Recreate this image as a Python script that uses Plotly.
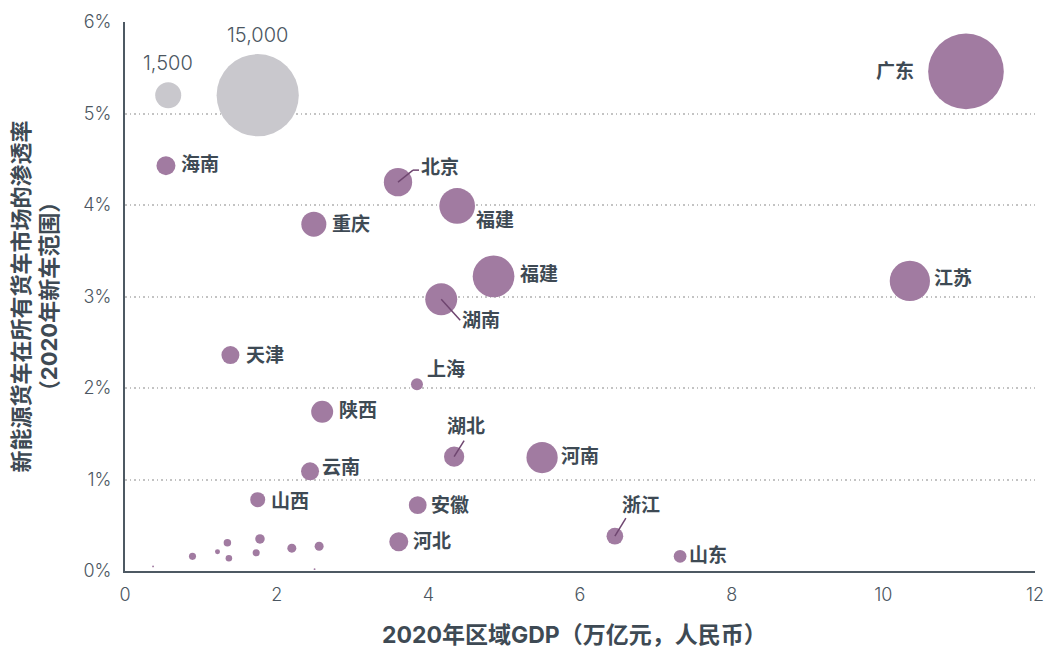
import plotly.graph_objects as go

# Labelled provinces: 2020 GDP (trillion yuan), NEV share of truck sales (%), NEV trucks sold
provinces = ["广东", "江苏", "海南", "北京", "福建", "福建", "湖南", "重庆", "天津", "上海",
             "陕西", "湖北", "河南", "安徽", "云南", "山西", "河北", "浙江", "山东"]
gdp = [11.09, 10.35, 0.54, 3.60, 4.38, 4.86, 4.17, 2.49, 1.39, 3.85,
       2.60, 4.34, 5.50, 3.86, 2.44, 1.75, 3.61, 6.46, 7.32]
nev_share = [5.46, 3.17, 4.43, 4.25, 3.99, 3.22, 2.97, 3.79, 2.36, 2.04,
             1.74, 1.25, 1.24, 0.72, 1.09, 0.78, 0.32, 0.38, 0.16]
nev_trucks = [12700, 3600, 800, 1780, 2830, 3860, 2270, 1390, 720, 320,
              1070, 910, 2170, 700, 720, 500, 800, 620, 360]

# Smaller provinces, drawn without labels
other_gdp = [0.37, 0.89, 1.22, 1.35, 1.37, 1.73, 1.78, 2.20, 2.56, 2.50]
other_share = [0.05, 0.16, 0.21, 0.31, 0.14, 0.20, 0.35, 0.25, 0.27, 0.02]
other_trucks = [8, 110, 55, 125, 95, 110, 200, 180, 180, 8]

# Bubble-size key
key_trucks = [1500, 15000]
key_text = ["1,500", "15,000"]
key_gdp = [0.57, 1.75]
key_share = [5.20, 5.20]

x_ticks = [0, 2, 4, 6, 8, 10, 12]
x_tick_text = ["0", "2", "4", "6", "8", "10", "12"]
y_ticks = [0, 1, 2, 3, 4, 5, 6]
y_tick_text = ["0%", "1%", "2%", "3%", "4%", "5%", "6%"]

# Label placement per province: (x offset px, y offset px, anchor)
label_pos = [(-50, 0, "right"), (22, 2, "left"), (13, 1, "left"), (21, 15, "left"),
             (17, -15, "left"), (24, 2, "left"), (19, -21, "left"), (16, 0, "left"),
             (14, 0, "left"), (8, 15, "left"), (15, 1, "left"), (12, 30, "center"),
             (17, 1, "left"), (11, 0, "left"), (10, 4, "left"), (11, -2, "left"),
             (12, 0, "left"), (26, 31, "center"), (7, 1, "left")]
# Leader lines for labels set away from their bubble: list of (dx, dy) vertices in px
leaders = {3: [(0, 0), (15, 12), (21, 12)], 6: [(0, 0), (19, -21)],
           11: [(0, 0), (10, 16)], 17: [(0, 0), (11, 18)]}

PURPLE = "#a17ba1"
GREY_BUBBLE = "#c9c8cd"
TEXT_DARK = "#3e4a54"
TEXT_AXIS = "#4b5661"
LEADER = "#6f4670"
SIZEREF = 4.44  # radius = sqrt(value / (2 * sizeref)) in px

LATIN = "Inter, sans-serif"
CJK = "Inter, 'Noto Sans CJK SC', sans-serif"

fig = go.Figure()

fig.add_trace(go.Scatter(
    x=key_gdp, y=key_share, mode="markers",
    marker=dict(size=key_trucks, sizemode="area", sizeref=SIZEREF, color=GREY_BUBBLE,
                opacity=1, line=dict(width=0)),
    hoverinfo="skip", showlegend=False))

fig.add_trace(go.Scatter(
    x=other_gdp, y=other_share, mode="markers",
    marker=dict(size=other_trucks, sizemode="area", sizeref=SIZEREF, color=PURPLE,
                opacity=1, line=dict(width=0)),
    showlegend=False))

fig.add_trace(go.Scatter(
    x=gdp, y=nev_share, mode="markers", text=provinces,
    marker=dict(size=nev_trucks, sizemode="area", sizeref=SIZEREF, color=PURPLE,
                opacity=1, line=dict(width=0)),
    hovertemplate="%{text}<br>GDP %{x}<br>%{y}%<extra></extra>",
    showlegend=False))

annotations = []
for i, name in enumerate(provinces):
    dx, dy, anchor = label_pos[i]
    annotations.append(dict(
        x=gdp[i], y=nev_share[i], xref="x", yref="y", text=name, showarrow=False,
        xanchor=anchor, yanchor="middle", xshift=dx, yshift=dy,
        font=dict(family=CJK, size=19, color=TEXT_DARK, weight="bold")))

for v, t, gx, gy in zip(key_trucks, key_text, key_gdp, key_share):
    r = (v / (2 * SIZEREF)) ** 0.5
    annotations.append(dict(
        x=gx, y=gy, xref="x", yref="y", text=t, showarrow=False,
        xanchor="center", yanchor="middle", yshift=r + 19,
        font=dict(family=LATIN, size=20, color=TEXT_AXIS, weight=300)))

annotations.append(dict(
    x=0.5, y=0, xref="paper", yref="paper", xanchor="center", yanchor="middle",
    xshift=-6, yshift=-64, showarrow=False,
    text="2020年区域GDP（万亿元，人民币）",
    font=dict(family=CJK, size=23, color=TEXT_DARK, weight="bold")))

annotations.append(dict(
    x=0, y=0.5, xref="paper", yref="paper", xanchor="center", yanchor="middle",
    xshift=-90, showarrow=False, textangle=-90,
    text="新能源货车在所有货车市场的渗透率<br>（2020年新车范围）",
    font=dict(family=CJK, size=22, color=TEXT_DARK, weight="bold")))

shapes = []
for i, pts in leaders.items():
    for (x0, y0), (x1, y1) in zip(pts[:-1], pts[1:]):
        shapes.append(dict(
            type="line", xref="x", yref="y", xsizemode="pixel", ysizemode="pixel",
            xanchor=gdp[i], yanchor=nev_share[i], x0=x0, x1=x1, y0=y0, y1=y1,
            line=dict(color=LEADER, width=1.5)))

fig.update_layout(
    template="none",
    width=1046, height=648,
    margin=dict(l=125, r=11, t=22, b=77, autoexpand=False),
    paper_bgcolor="white", plot_bgcolor="white",
    annotations=annotations, shapes=shapes,
    xaxis=dict(range=[0, 12], tickmode="array", tickvals=x_ticks, ticktext=x_tick_text,
               showgrid=False, zeroline=False, automargin=False,
               showline=True, linecolor="#4d5963", linewidth=2,
               ticks="outside", ticklen=6, tickcolor="rgba(0,0,0,0)",
               tickfont=dict(family=LATIN, size=18, color=TEXT_AXIS, weight=300)),
    yaxis=dict(range=[0, 6], tickmode="array", tickvals=y_ticks, ticktext=y_tick_text,
               showgrid=True, automargin=False,
               gridcolor="#c3c3c3", gridwidth=1.5, griddash="1.5px,3px",
               zeroline=False, showline=True, linecolor="#4d5963", linewidth=2,
               ticks="outside", ticklen=8, tickcolor="rgba(0,0,0,0)",
               tickfont=dict(family=LATIN, size=18, color=TEXT_AXIS, weight=300)),
)

fig.write_html("out.html")
